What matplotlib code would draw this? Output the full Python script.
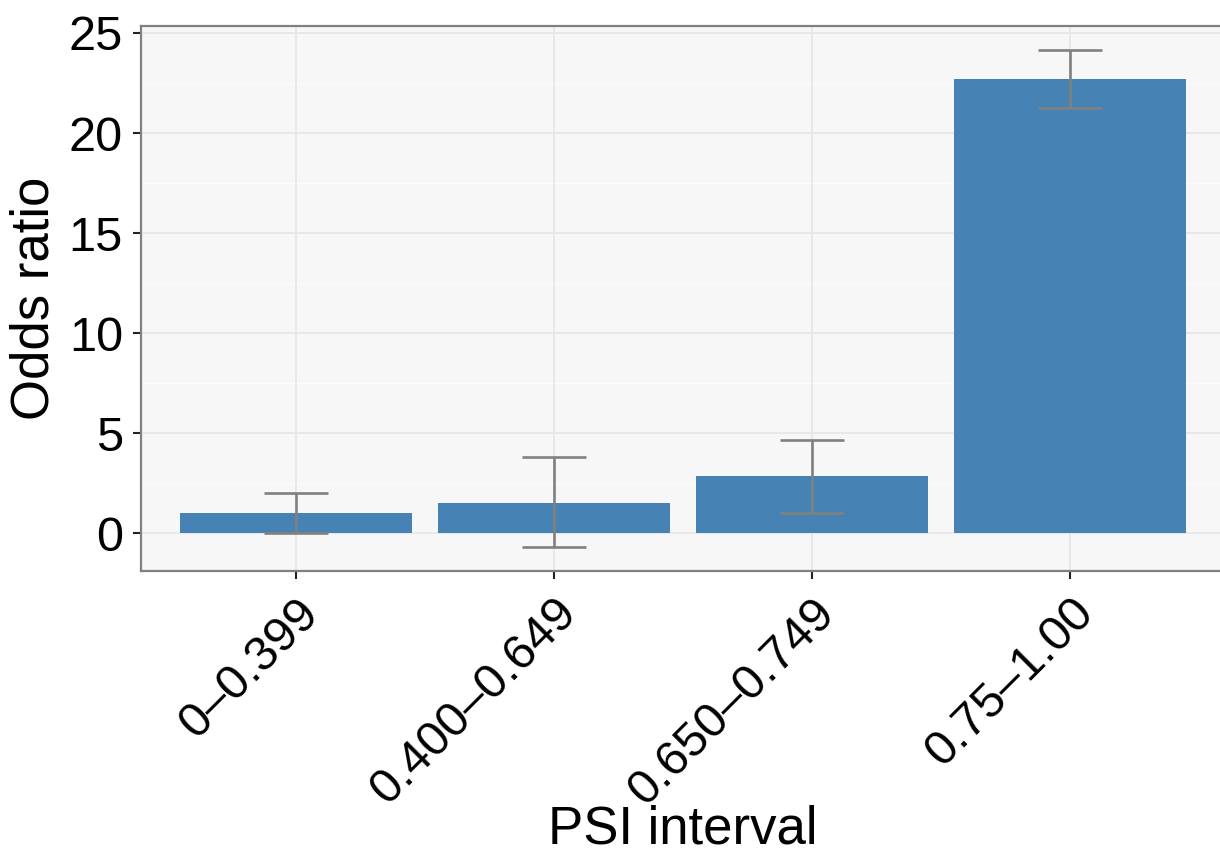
import matplotlib
matplotlib.use("Agg")
import matplotlib.pyplot as plt
import numpy as np

# Odds ratio per PSI interval with confidence bounds
categories = ["0\u20130.399", "0.400\u20130.649", "0.650\u20130.749", "0.75\u20131.00"]
odds_ratio = [1.0, 1.5, 2.85, 22.7]
ci_low = [0.0, -0.7, 1.0, 21.25]
ci_high = [2.0, 3.8, 4.65, 24.15]
y_ticks = [0, 5, 10, 15, 20, 25]

plt.rcParams["font.family"] = ["Liberation Sans", "DejaVu Sans"]

W, H = 1220, 855
fig = plt.figure(figsize=(W / 100, H / 100), dpi=100)
fig.patch.set_facecolor("white")

left, right, top, bottom = 141, 1225, 26, 571
ax = fig.add_axes([left / W, 1 - bottom / H, (right - left) / W, (bottom - top) / H])
ax.set_facecolor("#F7F7F7")

x = np.arange(1, len(categories) + 1)
ax.set_xlim(0.4, 4.6)
ax.set_ylim(-1.9, 25.35)

# grid: minor halfway lines, then major lines
for v in np.arange(2.5, 25.1, 5):
    ax.axhline(v, color="#FCFCFC", lw=1.0, zorder=0.5)
for v in y_ticks:
    ax.axhline(v, color="#E6E6E6", lw=1.2, zorder=0.6)
for v in x:
    ax.axvline(v, color="#E6E6E6", lw=1.2, zorder=0.6)

ax.bar(x, odds_ratio, width=0.9, color="#4682B4", zorder=2)

err = np.array([np.array(odds_ratio) - np.array(ci_low),
                np.array(ci_high) - np.array(odds_ratio)])
ax.errorbar(x, odds_ratio, yerr=err, fmt="none", ecolor="#808080",
            elinewidth=1.9, capsize=23, capthick=1.9, zorder=3)

ax.set_yticks(y_ticks)
ax.set_yticklabels([str(t) for t in y_ticks])
ax.set_xticks(x)
ax.set_xticklabels(categories, rotation=45, ha="right", va="top",
                   rotation_mode="anchor")

ax.tick_params(axis="both", length=6, width=1.5, color="#222222",
               labelsize=35, labelcolor="black")
ax.tick_params(axis="y", pad=7)
ax.tick_params(axis="x", pad=8)

for s in ax.spines.values():
    s.set_color("#808080")
    s.set_linewidth(1.6)

fig.text(35 / W, 1 - 298 / H, "Odds ratio", rotation=90, ha="center",
         va="center", fontsize=38)
fig.text(683 / W, 1 / H, "PSI interval", ha="center", va="bottom",
         fontsize=38)

fig.savefig("out.png", dpi=100, facecolor="white")
